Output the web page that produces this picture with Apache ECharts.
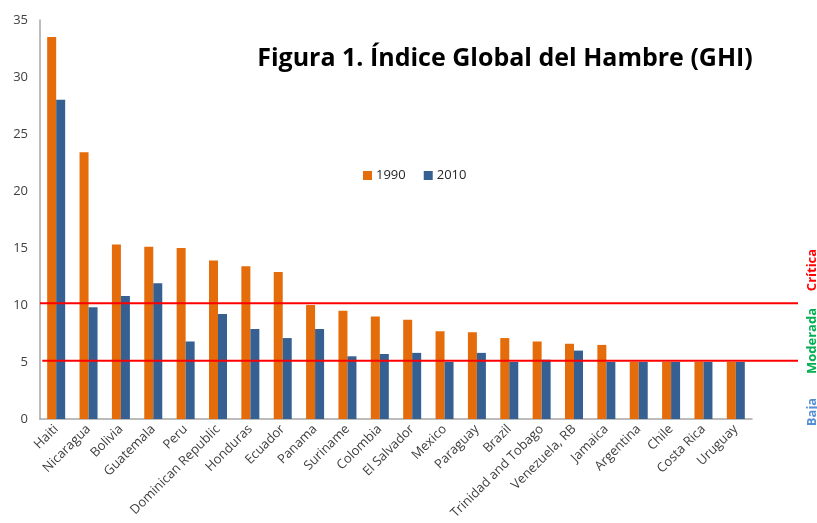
<!DOCTYPE html>
<html>
<head>
<meta charset="utf-8">
<script src="https://cdn.jsdelivr.net/npm/echarts@6/dist/echarts.min.js"></script>
<style>
  html, body { margin: 0; padding: 0; background: #fff; }
  #chart { width: 817px; height: 523px; }
</style>
</head>
<body>
<div id="chart"></div>
<script>
var countries = ["Haiti", "Nicaragua", "Bolivia", "Guatemala", "Peru", "Dominican Republic",
  "Honduras", "Ecuador", "Panama", "Suriname", "Colombia", "El Salvador", "Mexico",
  "Paraguay", "Brazil", "Trinidad and Tobago", "Venezuela, RB", "Jamaica", "Argentina",
  "Chile", "Costa Rica", "Uruguay"];
var ghi1990 = [33.5, 23.4, 15.3, 15.1, 15.0, 13.9, 13.4, 12.9, 10.0, 9.5, 9.0, 8.7, 7.7,
  7.6, 7.1, 6.8, 6.6, 6.5, 5.0, 5.0, 5.0, 5.0];
var ghi2010 = [28.0, 9.8, 10.8, 11.9, 6.8, 9.2, 7.9, 7.1, 7.9, 5.5, 5.7, 5.8, 5.0,
  5.8, 5.0, 5.2, 6.0, 5.0, 5.0, 5.0, 5.0, 5.0];
var thresholds = [10.15, 5.1];
var yTicks = { min: 0, max: 35, step: 5 };

var myChart = echarts.init(document.getElementById("chart"));

// threshold lines run past the plot, so they sit on a second, wider grid with the same y scale
var thresholdSeries = thresholds.map(function(v, i) {
  return {
    type: "line",
    xAxisIndex: 1,
    yAxisIndex: 1,
    symbol: "none",
    silent: true,
    z: 5,
    lineStyle: { color: "#ff0000", width: 2 },
    data: [[i === 0 ? 0 : 0.003, v], [1, v]]
  };
});

var option = {
  animation: false,
  textStyle: { fontFamily: "Open Sans" },
  title: {
    text: "Figura 1. Índice Global del Hambre (GHI)",
    left: 500,
    top: 41,
    textAlign: "center",
    textStyle: { fontFamily: "Open Sans", fontWeight: "bold", fontSize: 25, color: "#000" }
  },
  legend: {
    data: ["1990", "2010"],
    left: 358,
    top: 164,
    itemWidth: 9,
    itemHeight: 9,
    itemGap: 18,
    icon: "rect",
    textStyle: { fontSize: 13, color: "#262626", padding: [0, 0, 0, -1] }
  },
  grid: [
    { left: 40, right: 65, top: 20, bottom: 104 },
    { left: 40, right: 19, top: 20, bottom: 104 }
  ],
  xAxis: [
    {
      type: "category",
      data: countries,
      gridIndex: 0,
      axisTick: { show: false },
      axisLine: { lineStyle: { color: "#a6a6a6", width: 1.5 } },
      axisLabel: {
        interval: 0,
        rotate: 45,
        fontSize: 13,
        color: "#404040",
        margin: 8
      }
    },
    { type: "value", gridIndex: 1, min: 0, max: 1, show: false }
  ],
  yAxis: [
    {
      type: "value",
      gridIndex: 0,
      min: yTicks.min,
      max: yTicks.max,
      interval: yTicks.step,
      splitLine: { show: false },
      axisTick: { show: false },
      axisLine: { show: true, lineStyle: { color: "#a6a6a6", width: 1.5 } },
      axisLabel: { fontSize: 13, color: "#404040", margin: 12 }
    },
    { type: "value", gridIndex: 1, min: yTicks.min, max: yTicks.max, show: false }
  ],
  graphic: [
    { type: "text", x: 812, y: 270, rotation: Math.PI / 2,
      style: { text: "Crítica", fill: "#ff0000", font: "bold 13px 'Open Sans'", align: "center", verticalAlign: "middle" } },
    { type: "text", x: 812, y: 341, rotation: Math.PI / 2,
      style: { text: "Moderada", fill: "#00b050", font: "bold 13px 'Open Sans'", align: "center", verticalAlign: "middle" } },
    { type: "text", x: 812, y: 412, rotation: Math.PI / 2,
      style: { text: "Baja", fill: "#558ed5", font: "bold 13px 'Open Sans'", align: "center", verticalAlign: "middle" } }
  ],
  series: [
    {
      name: "1990",
      type: "bar",
      barWidth: 9,
      barGap: "0%",
      itemStyle: { color: "#e46c0a" },
      data: ghi1990
    },
    {
      name: "2010",
      type: "bar",
      barWidth: 9,
      barGap: "0%",
      itemStyle: { color: "#376092" },
      data: ghi2010
    }
  ].concat(thresholdSeries)
};
myChart.setOption(option);
</script>
</body>
</html>
